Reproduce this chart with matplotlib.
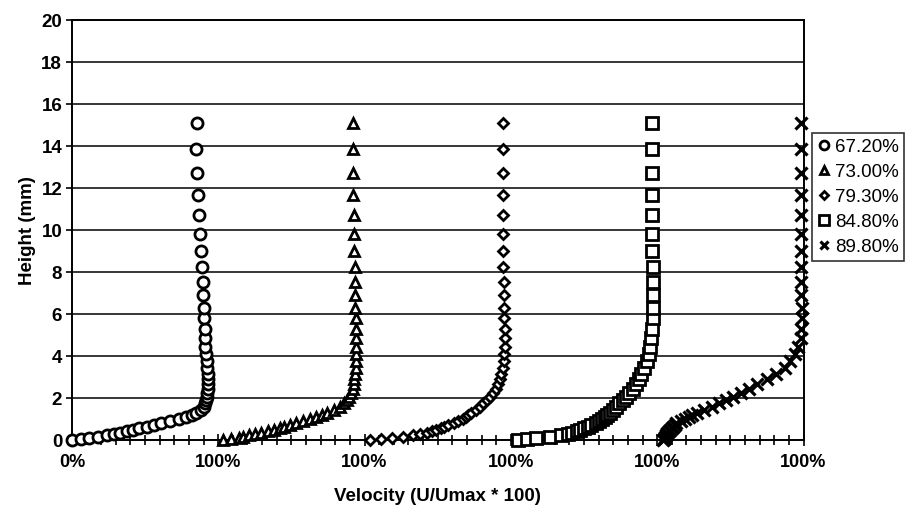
import matplotlib
matplotlib.use("Agg")
import matplotlib.pyplot as plt
from matplotlib.ticker import MultipleLocator, FixedLocator

plt.rcParams["font.family"] = ["Liberation Sans", "DejaVu Sans"]

# traverse heights (mm), shared by all profiles
heights = [0.03, 0.07, 0.12, 0.17, 0.23, 0.29, 0.35, 0.42, 0.49, 0.56,
           0.64, 0.72, 0.80, 0.90, 1.0, 1.1, 1.2, 1.3, 1.45, 1.6,
           1.75, 1.9, 2.05, 2.25, 2.45, 2.65, 2.9, 3.15, 3.45, 3.75,
           4.1, 4.45, 4.85, 5.3, 5.8, 6.3, 6.9, 7.55, 8.25, 9.0,
           9.8, 10.7, 11.65, 12.7, 13.85, 15.1]

# U/Umax*100 for each profile
u_672 = [0, 6, 12, 18, 24, 29, 33, 38, 42, 46,
         51, 56, 61, 67, 73, 78, 82, 85, 88, 90,
         91, 91.5, 92, 92.5, 93, 93, 93, 92.8, 92.5, 92,
         91.5, 91.2, 91, 90.7, 90.3, 90, 89.7, 89.5, 89, 88.4,
         87.7, 86.8, 86.5, 85.6, 84.9, 85.6]
u_730 = [3, 9, 14, 17, 21, 25, 29, 34, 38, 42,
         45, 49, 53, 58, 63, 67, 71, 74, 79, 83,
         86, 88, 89.5, 91, 92, 92.5, 93, 93.5, 94, 94.3,
         94.5, 94.5, 94.3, 94, 94, 93.8, 93.6, 93.4, 93.2, 93,
         92.8, 92.6, 92.4, 92.2, 92, 92]
u_793 = [3.5, 11, 19, 26, 33, 38, 43, 46, 49, 52,
         54, 57, 61, 64, 67, 69, 71, 73, 76, 79,
         81, 83.5, 85.5, 87.5, 89.5, 91, 92.5, 93.5, 94.5, 95,
         95.5, 95.7, 95.8, 95.8, 95.6, 95.4, 95.2, 95, 94.9, 94.8,
         94.7, 94.6, 94.6, 94.5, 94.5, 94.5]
u_848 = [5, 11, 17, 27, 34, 39, 42, 45, 47, 50,
         53, 55, 58, 60, 62, 64, 66, 68, 70, 72,
         74, 76.5, 79, 81, 83.5, 85.5, 87.5, 89, 91, 93,
         94.2, 95, 95.6, 96.2, 96.8, 97, 97, 97, 96.8, 96.7,
         96.6, 96.5, 96.5, 96.4, 96.4, 96.4]
u_898 = [4, 4.5, 5, 5.5, 6, 6.5, 7, 8, 9, 10,
         11, 12, 13, 16, 19, 21.5, 24, 27, 32, 37.5,
         42, 47, 51.5, 57, 62.5, 68, 75, 81, 87, 91,
         94.5, 96.5, 98, 98.5, 98.7, 98.7, 98.5, 98.4, 98.3, 98.3,
         98.2, 98.2, 98.2, 98.1, 98.1, 98]

labels = ["67.20%", "73.00%", "79.30%", "84.80%", "89.80%"]
profiles = [u_672, u_730, u_793, u_848, u_898]
offsets = [0, 1, 2, 3, 4]
x_ticklabels = ["0%", "100%", "100%", "100%", "100%", "100%"]

markers = ["o", "^", "D", "s", "x"]
msizes = [8, 7.5, 5.5, 8.5, 8]

fig = plt.figure(figsize=(9.1, 5.16), dpi=100)
ax = fig.add_axes([0.079, 0.147, 0.804, 0.814])

for u, off, lab, m, ms in zip(profiles, offsets, labels, markers, msizes):
    xs = [off + v / 100 for v in u]
    if m == "x":
        ax.plot(xs, heights, ls="none", marker=m, ms=ms, mew=2.3,
                color="black", label=lab, clip_on=False, zorder=3)
    else:
        ax.plot(xs, heights, ls="none", marker=m, ms=ms, mew=2.0,
                mfc="white", mec="black", label=lab, clip_on=False, zorder=3)

ax.set_xlim(0, 5)
ax.set_ylim(0, 20)
ax.xaxis.set_major_locator(FixedLocator(range(6)))
ax.set_xticklabels(x_ticklabels)
ax.xaxis.set_minor_locator(MultipleLocator(0.1))
ax.yaxis.set_major_locator(MultipleLocator(2))
ax.grid(axis="y", color="black", lw=1.1)
ax.set_axisbelow(True)

for s in ax.spines.values():
    s.set_linewidth(1.4)
    s.set_color("black")

ax.tick_params(axis="x", which="both", direction="inout", length=8,
               width=1.2, pad=6, labelsize=13)
ax.tick_params(axis="x", which="minor", length=7)
ax.tick_params(axis="y", direction="out", length=4, width=1.2,
               labelsize=13.5, pad=3)
for t in ax.get_xticklabels() + ax.get_yticklabels():
    t.set_fontweight("bold")

ax.set_xlabel("Velocity (U/Umax * 100)", fontsize=13.5, fontweight="bold",
              labelpad=12)
ax.set_ylabel("Height (mm)", fontsize=13.5, fontweight="bold", labelpad=4)

leg = ax.legend(loc="upper left", bbox_to_anchor=(1.012, 0.731),
                borderaxespad=0, frameon=True, fancybox=False,
                edgecolor="black", fontsize=13.5, handlelength=0.6,
                handletextpad=0.3, labelspacing=0.42, borderpad=0.3,
                markerscale=0.8)
leg.get_frame().set_linewidth(1.2)

fig.savefig("out.png", dpi=100)
plt.close(fig)
